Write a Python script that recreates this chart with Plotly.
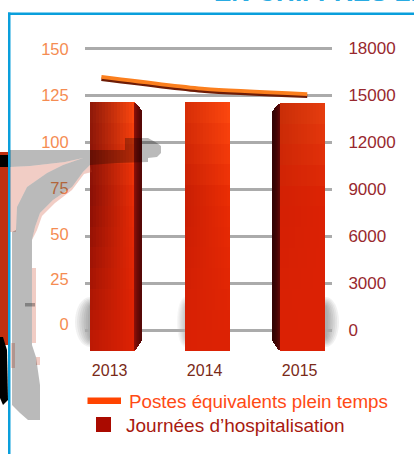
import plotly.graph_objects as go

years = [2013, 2014, 2015]
year_labels = ["2013", "2014", "2015"]
journees = [14550, 14550, 14490]
postes = [134.6, 128.2, 125.5]
postes_x = [2012.883, 2013.97, 2015.05]
right_ticks = [0, 3000, 6000, 9000, 12000, 15000, 18000]
left_labels = ["0", "25", "50", "75", "100", "125", "150"]
left_label_pos = [3.2, 27.1, 51.1, 75.5, 100, 125, 149.5]
legend_names = ["Postes équivalents plein temps", "Journées d’hospitalisation"]

W, H = 414, 454
L, R, T, B = 85, 332, 44, 351
PX_PER_YEAR = 95.0
X0 = 2013 - (112.5 - L) / PX_PER_YEAR
X1 = X0 + (R - L) / PX_PER_YEAR
PER_PX = 18000 / 282.0
BASE = -(B - 330) * PER_PX
TOP_RIGHT = (330 - T) * PER_PX
FONT = "Liberation Sans, Arial, sans-serif"


def hx(c):
    return [int(c[i:i + 2], 16) for i in (1, 3, 5)]


def mix(a, b, t):
    return [a[i] + (b[i] - a[i]) * t for i in range(3)]


def grad(rows, u, v):
    (v0, l0, r0), (v1, l1, r1), (v2, l2, r2) = rows
    if v < v1:
        t = (v - v0) / (v1 - v0)
        a, b = mix(hx(l0), hx(l1), t), mix(hx(r0), hx(r1), t)
    else:
        t = (v - v1) / (v2 - v1)
        a, b = mix(hx(l1), hx(l2), t), mix(hx(r1), hx(r2), t)
    c = mix(a, b, u)
    return "rgb(%d,%d,%d)" % tuple(c)


bar_styles = [
    dict(rows=[(0, "#8e1a0a", "#ff4a10"), (.4, "#8a1006", "#ea2c06"), (1, "#c01a04", "#dd2204")],
         side="right", side_cols=["#8a1008", "#800e08", "#760c06", "#6c0a06", "#640a06", "#5c0806", "#560806"]),
    dict(rows=[(0, "#d83008", "#ff4a10"), (.4, "#c81e04", "#ea2c04"), (1, "#dc2204", "#dc2204")],
         side=None, side_cols=[]),
    dict(rows=[(0, "#c83008", "#e84010"), (.4, "#d42004", "#dc2204"), (1, "#dc2204", "#dc2204")],
         side="left", side_cols=["#600806", "#560606", "#4c0604", "#440404", "#3e0404", "#380404", "#340404"]),
]

xs, ws, bases, hs, cols = [], [], [], [], []
NX, NY = 15, 12
for yr, val, st in zip(years, journees, bar_styles):
    span = val - BASE
    for i in range(NX):
        for j in range(NY):
            xs.append(yr + (-22.5 + 3 * i + 1.5) / PX_PER_YEAR)
            ws.append(3.0 / PX_PER_YEAR)
            b = val - span * (j + 1) / NY
            bases.append(b)
            hs.append(span / NY)
            cols.append(grad(st["rows"], (i + .5) / NX, (j + .5) / NY))
    if st["side"]:
        sgn = 1 if st["side"] == "right" else -1
        for k, c in enumerate(st["side_cols"]):
            d = k + .5
            xs.append(yr + sgn * (22.5 + d) / PX_PER_YEAR)
            ws.append(1.2 / PX_PER_YEAR)
            bases.append(BASE + d * 1.5 * PER_PX)
            hs.append(span - (d * 1.5 + d * 1.2) * PER_PX)
            cols.append(c)

fig = go.Figure()
fig.add_trace(go.Bar(x=xs, y=hs, base=bases, width=ws, yaxis="y",
                     marker=dict(color=cols, line=dict(width=0)),
                     name=legend_names[1], showlegend=False, hoverinfo="skip"))
fig.add_trace(go.Scatter(x=postes_x, y=[p - 1.2 for p in postes], yaxis="y2", mode="lines",
                         line=dict(color="#6e1c06", width=3.5, shape="spline", smoothing=.6),
                         showlegend=False, hoverinfo="skip"))
fig.add_trace(go.Scatter(x=postes_x, y=postes, yaxis="y2", mode="lines",
                         line=dict(color="#fb7f1e", width=3.8, shape="spline", smoothing=.6),
                         name=legend_names[0], showlegend=False, hoverinfo="skip"))


def px(x):
    return (x - L) / (R - L)


def py(y):
    return (B - y) / (B - T)


def poly(pts):
    return "M" + " L".join("%.4f,%.4f" % (px(x), py(y)) for x, y in pts) + " Z"


shapes = []


def add_rect(x0, y0, x1, y1, color, layer="above"):
    shapes.append(dict(type="rect", xref="paper", yref="paper", x0=px(x0), x1=px(x1),
                       y0=py(y0), y1=py(y1), fillcolor=color, line=dict(width=0), layer=layer))


def add_poly(pts, color, layer="above"):
    shapes.append(dict(type="path", xref="paper", yref="paper", path=poly(pts),
                       fillcolor=color, line=dict(width=0), layer=layer))


# soft shadows behind the bars
for cx, rx, a in [(90, 15, .07), (326, 13, .07), (185, 8, .04)]:
    for n in range(7):
        f = 1 - n / 7
        shapes.append(dict(type="circle", xref="paper", yref="paper",
                           x0=px(cx - rx * f), x1=px(cx + rx * f),
                           y0=py(322 + 25 * (f * .4 + .6)), y1=py(322 - 25 * (f * .4 + .6)),
                           fillcolor="rgba(60,60,60,%.3f)" % a, line=dict(width=0), layer="below"))

# page furniture: frame and clipped neighbours
add_rect(8, 12.5, W, 15, "#0a9fdc")
add_rect(8, 12.5, 10.5, H, "#0a9fdc")
add_rect(0, 152, 8, 345, "#c03010")
add_rect(0, 155, 8, 167, "#000000")
add_poly([(0, 337), (3, 337), (7, 350), (8, 400), (3, 405), (0, 398)], "#000000")

# pink halo and grey pasted silhouette
pink = "rgba(205,70,40,0.27)"
add_poly([(10, 167), (30, 166), (65, 162), (83, 158), (63, 165), (47, 173), (27, 187), (17, 207),
          (16, 232), (10, 232)], pink)
add_poly([(90, 165), (92, 172), (84, 174), (72, 190), (55, 203), (42, 216), (37, 230), (32, 240),
          (35, 227), (40, 213), (53, 200), (72, 187), (83, 172)], pink)
add_rect(32, 268, 36, 343, pink)
add_rect(36, 357, 40, 365, pink)
add_rect(11, 343, 15, 368, pink)
add_poly([(10, 150), (125, 150), (125, 138), (148, 138), (157, 143), (161, 146), (161, 153),
          (157, 157), (148, 158), (148, 162), (117, 163), (90, 165), (83, 172), (72, 187), (53, 200),
          (40, 213), (35, 227), (32, 240), (32, 345), (36, 357), (40, 385), (40, 420), (28, 420),
          (20, 413), (12, 405), (12, 232), (16, 230), (17, 207), (27, 187), (47, 173), (63, 165),
          (83, 158), (65, 162), (30, 166), (10, 167)], "rgba(0,0,0,0.27)")
add_rect(25, 303, 35, 306.5, "rgba(0,0,0,0.3)")

# legend swatches
add_rect(87.5, 397.5, 121, 404, "#ff4400")
add_rect(96, 417, 111, 432, "#aa0a00")

annotations = [
    dict(text="<b>EN CHIFFRES LE</b>", x=px(212), y=py(9), xref="paper", yref="paper", xanchor="left",
         yanchor="bottom", showarrow=False, font=dict(family=FONT, size=26, color="#29abe2")),
    dict(text=legend_names[0], x=px(126.5), y=py(401), xref="paper", yref="paper", xanchor="left",
         yanchor="middle", showarrow=False, font=dict(family=FONT, size=18.8, color="#ff4a14")),
    dict(text=legend_names[1], x=px(123.5), y=py(425), xref="paper", yref="paper", xanchor="left",
         yanchor="middle", showarrow=False, font=dict(family=FONT, size=19, color="#a81a10")),
]

fig.update_layout(
    width=W, height=H, autosize=False,
    margin=dict(l=L, r=W - R, t=T, b=H - B, pad=0),
    paper_bgcolor="white", plot_bgcolor="rgba(0,0,0,0)",
    barmode="overlay", bargap=0, showlegend=False,
    shapes=shapes, annotations=annotations,
    xaxis=dict(range=[X0, X1], showgrid=False, zeroline=False, showline=False,
               tickmode="array", tickvals=[y - .03 for y in years], ticktext=year_labels,
               ticks="outside", ticklen=5, tickcolor="rgba(0,0,0,0)",
               tickfont=dict(family=FONT, size=16, color="#7a2a18")),
    yaxis=dict(side="right", range=[BASE, TOP_RIGHT], tickmode="array", tickvals=right_ticks,
               ticktext=[str(t) for t in right_ticks], showgrid=True, gridcolor="#ababab", gridwidth=2.5,
               zeroline=False, showline=False, ticks="outside", ticklen=12, tickcolor="rgba(0,0,0,0)",
               tickfont=dict(family=FONT, size=17, color="#98282e")),
    yaxis2=dict(side="left", overlaying="y", range=[-(B - 330) * 25 / 47, (330 - T) * 25 / 47], tickmode="array",
                tickvals=left_label_pos, ticktext=left_labels, showgrid=False, zeroline=False,
                showline=False, ticks="outside", ticklen=12, tickcolor="rgba(0,0,0,0)",
                tickfont=dict(family=FONT, size=16.5, color="#f58c52")),
)

fig.write_html("out.html", config=dict(displayModeBar=False),
               post_script="document.body.style.margin='0';document.body.style.overflow='hidden';")
